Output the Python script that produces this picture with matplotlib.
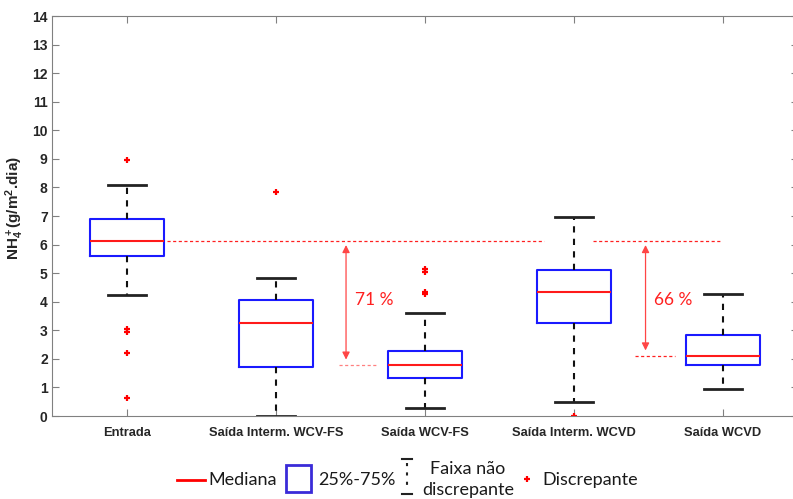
import numpy as np
import matplotlib
matplotlib.use('Agg')
import matplotlib.pyplot as plt
from matplotlib.lines import Line2D
from matplotlib.patches import Rectangle

# Dados
categorias = ['Entrada', 'Saída Interm. WCV-FS', 'Saída WCV-FS',
              'Saída Interm. WCVD', 'Saída WCVD']
whis_inf = [4.22, 0.00, 0.27, 0.48, 0.93]
q1 = [5.60, 1.70, 1.33, 3.25, 1.78]
mediana = [6.13, 3.25, 1.78, 4.33, 2.10]
q3 = [6.90, 4.05, 2.28, 5.10, 2.82]
whis_sup = [8.10, 4.82, 3.62, 6.98, 4.27]
discrepantes = [[8.95, 3.05, 2.95, 2.22, 0.62], [7.85],
                [5.13, 5.05, 4.35, 4.27], [0.0], []]

plt.rcParams['mathtext.fontset'] = 'custom'
plt.rcParams['mathtext.rm'] = 'Liberation Sans:bold'
plt.rcParams['mathtext.it'] = 'Liberation Sans:bold'
plt.rcParams['mathtext.bf'] = 'Liberation Sans:bold'
plt.rcParams['mathtext.default'] = 'rm'

fig = plt.figure(figsize=(7.93, 4.99), dpi=100)
ax = fig.add_axes([0.0662, 0.1663, 0.9395, 0.8016])

stats = []
for i in range(len(categorias)):
    stats.append({'whislo': whis_inf[i], 'q1': q1[i], 'med': mediana[i],
                  'q3': q3[i], 'whishi': whis_sup[i], 'fliers': discrepantes[i]})

ax.bxp(stats, positions=np.arange(1, 6), widths=0.5, showfliers=True,
       boxprops=dict(color='#1a1aff', linewidth=1.5),
       medianprops=dict(color='#ff1a1a', linewidth=1.5),
       whiskerprops=dict(color='#111111', linewidth=1.5, linestyle=(0, (3, 3))),
       capprops=dict(color='#222222', linewidth=2),
       capwidths=0.25,
       flierprops=dict(marker='+', markeredgecolor='red', markersize=5, markeredgewidth=1.6))

ax.set_xlim(0.5, 5.5)
ax.set_ylim(0, 14)
ax.set_yticks(range(0, 15))
ax.set_xticks(np.arange(1, 6))
ax.set_xticklabels(categorias)
for s in ax.spines.values():
    s.set_color('#808080')
ax.tick_params(direction='in', length=5, color='#808080', top=True, right=True,
               labelcolor='#262626')
ax.tick_params(axis='x', pad=8)
for t in ax.get_xticklabels():
    t.set_fontweight('bold')
    t.set_fontfamily('Liberation Sans')
    t.set_fontsize(9.3)
for t in ax.get_yticklabels():
    t.set_fontweight('bold')
    t.set_fontfamily('Liberation Sans')
    t.set_fontsize(10)
ax.set_ylabel('NH$_4^+$(g/m$^2$.dia)', fontsize=11, fontweight='bold',
              fontfamily='Liberation Sans', color='#262626')
ax.yaxis.set_label_coords(-0.035, 0.52)

# Linhas de referência e reduções
verm = '#ff2020'
tracej = (0, (2.5, 2))
ax.plot([1.27, 3.80], [mediana[0]] * 2, color=verm, lw=0.9, ls=tracej)
ax.plot([4.13, 4.98], [mediana[0]] * 2, color=verm, lw=0.9, ls=tracej)
ax.plot([2.42, 2.68], [mediana[2]] * 2, color='#ff8080', lw=0.9, ls=tracej)
ax.plot([4.41, 4.68], [mediana[4]] * 2, color=verm, lw=0.9, ls=tracej)

for k, xa in [(2, 2.47), (4, 4.48)]:
    red = round((mediana[0] - mediana[k]) / mediana[0] * 100)
    ax.annotate('', xy=(xa, mediana[k]), xytext=(xa, mediana[0]),
                arrowprops=dict(arrowstyle='<|-|>', color='#ff4545', lw=0.9,
                                mutation_scale=11, shrinkA=3, shrinkB=4))
    ax.text(xa + 0.06, 4.07, f'{red} %', color=verm, fontsize=12.5,
            fontfamily='Lato', va='center', ha='left')

# Legenda
fig.add_artist(Line2D([177 / 793, 205 / 793], [1 - 480 / 499] * 2, color='red', lw=2))
fig.text(208 / 793, 1 - 480 / 499, 'Mediana', fontsize=13, fontfamily='Lato',
         va='center', ha='left', color='#1a1a1a')
fig.add_artist(Rectangle((286 / 793, 1 - 492 / 499), 25 / 793, 27 / 499,
                         fill=False, edgecolor='#3a2bd8', lw=2))
fig.text(318 / 793, 1 - 480 / 499, '25%-75%', fontsize=13, fontfamily='Lato',
         va='center', ha='left', color='#1a1a1a')
xw = 407 / 793
fig.add_artist(Line2D([xw - 5 / 793, xw + 5 / 793], [1 - 459 / 499] * 2, color='#222222', lw=1.5))
fig.add_artist(Line2D([xw - 5 / 793, xw + 5 / 793], [1 - 494 / 499] * 2, color='#222222', lw=1.5))
fig.add_artist(Line2D([xw, xw], [1 - 463 / 499, 1 - 490 / 499], color='#222222', lw=1.5,
                      ls=(0, (1.5, 3))))
fig.text(468 / 793, 1 - 469 / 499, 'Faixa não', fontsize=13, fontfamily='Lato',
         va='center', ha='center', color='#1a1a1a')
fig.text(468 / 793, 1 - 490 / 499, 'discrepante', fontsize=13, fontfamily='Lato',
         va='center', ha='center', color='#1a1a1a')
fig.add_artist(Line2D([527 / 793], [1 - 479 / 499], marker='+', color='red',
                      markersize=5, markeredgewidth=1.6))
fig.text(542 / 793, 1 - 480 / 499, 'Discrepante', fontsize=13, fontfamily='Lato',
         va='center', ha='left', color='#1a1a1a')

fig.savefig('out.png', dpi=100)
